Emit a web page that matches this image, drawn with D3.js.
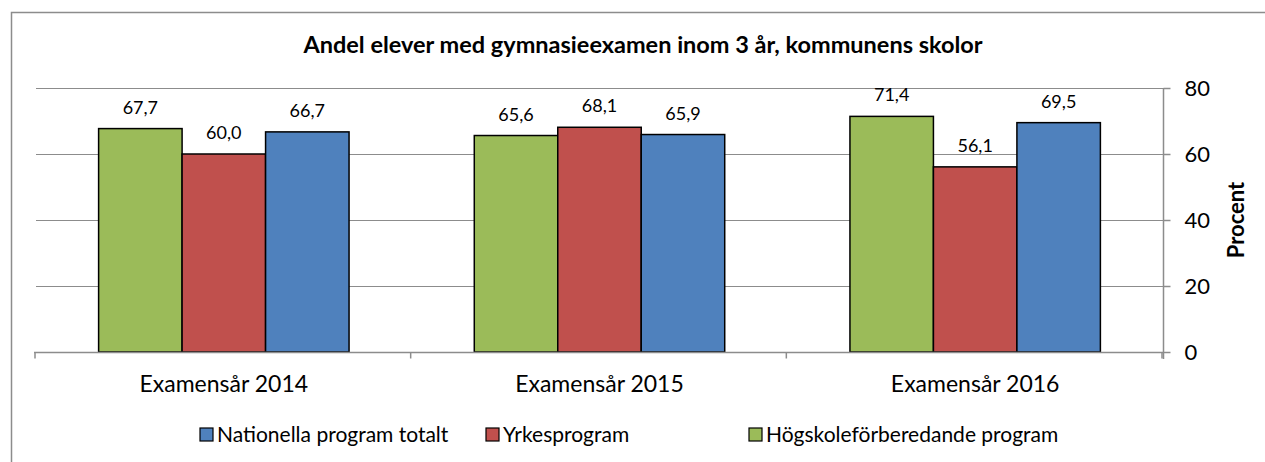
<!DOCTYPE html>
<html>
<head>
<meta charset="utf-8">
<script src="https://cdn.jsdelivr.net/npm/d3@7"></script>
<style>
body { margin: 0; background: #fff; }
svg text { font-family: Lato, "Open Sans", sans-serif; fill: #000; }
</style>
</head>
<body>
<div id="chart"></div>
<script>
var categories = ['Examensår 2014', 'Examensår 2015', 'Examensår 2016'];
var seriesNames = ['Högskoleförberedande program', 'Yrkesprogram', 'Nationella program totalt'];
var hogskole = [67.7, 65.6, 71.4];
var yrkes = [60.0, 68.1, 56.1];
var nationella = [66.7, 65.9, 69.5];
var yTicks = [0, 20, 40, 60, 80];
var legendOrder = ['Nationella program totalt', 'Yrkesprogram', 'Högskoleförberedande program'];

var colors = {
    'Högskoleförberedande program': '#9bbb59',
    'Yrkesprogram': '#c0504d',
    'Nationella program totalt': '#4f81bd'
};

var W = 1265, H = 462;
var pLeft = 36, pRight = 1163, pTop = 88, pBottom = 352;

var svg = d3.select('#chart').append('svg')
    .attr('width', W).attr('height', H);

// outer frame
svg.append('path')
    .attr('d', 'M11.5,' + (H + 2) + 'V12.5H' + (W + 2))
    .attr('fill', 'none')
    .attr('stroke', '#8c8c8c')
    .attr('stroke-width', 1.5);

svg.append('text')
    .attr('x', 643).attr('y', 53)
    .attr('text-anchor', 'middle')
    .style('font-weight', 'bold')
    .style('font-size', '23.5px')
    .text('Andel elever med gymnasieexamen inom 3 år, kommunens skolor');

var x0 = d3.scaleBand().domain(categories).range([pLeft, pRight]).paddingInner(0).paddingOuter(0);
var x1 = d3.scaleBand().domain(seriesNames).range([0, x0.bandwidth()]).paddingOuter(0.75).paddingInner(0);
var y = d3.scaleLinear().domain([0, 80]).range([pBottom, pTop]);

// gridlines
svg.append('g').selectAll('line').data(yTicks.filter(function(d) { return d > 0; }))
    .enter().append('line')
    .attr('x1', pLeft).attr('x2', pRight)
    .attr('y1', function(d) { return y(d) + 0.5; })
    .attr('y2', function(d) { return y(d) + 0.5; })
    .attr('stroke', '#8c8c8c').attr('stroke-width', 1.2);

var rows = [hogskole, yrkes, nationella];
var data = [];
categories.forEach(function(c, i) {
    seriesNames.forEach(function(s, j) {
        data.push({ cat: c, series: s, value: rows[j][i] });
    });
});

var fmt = function(v) { return d3.format('.1f')(v).replace('.', ','); };

svg.append('g').selectAll('rect').data(data).enter().append('rect')
    .attr('x', function(d) { return x0(d.cat) + x1(d.series); })
    .attr('y', function(d) { return y(d.value); })
    .attr('width', x1.bandwidth())
    .attr('height', function(d) { return y(0) - y(d.value); })
    .attr('fill', function(d) { return colors[d.series]; })
    .attr('stroke', '#000').attr('stroke-width', 1.5);

svg.append('g').selectAll('text').data(data).enter().append('text')
    .attr('x', function(d) { return x0(d.cat) + x1(d.series) + x1.bandwidth() / 2; })
    .attr('y', function(d) { return y(d.value) - 15; })
    .attr('text-anchor', 'middle')
    .style('font-size', '18px')
    .text(function(d) { return fmt(d.value); });

// x axis
var gx = svg.append('g').attr('transform', 'translate(0,' + (pBottom + 0.5) + ')');
gx.append('line').attr('x1', pLeft - 2).attr('x2', pRight).attr('stroke', '#8c8c8c').attr('stroke-width', 1.5);
gx.selectAll('line.tk').data(d3.range(categories.length + 1)).enter().append('line')
    .attr('class', 'tk')
    .attr('x1', function(i) { return pLeft - 1 + i * x0.bandwidth(); })
    .attr('x2', function(i) { return pLeft - 1 + i * x0.bandwidth(); })
    .attr('y1', 0).attr('y2', 6)
    .attr('stroke', '#8c8c8c').attr('stroke-width', 1.5);
gx.selectAll('text.cat').data(categories).enter().append('text')
    .attr('class', 'cat')
    .attr('x', function(d) { return x0(d) + x0.bandwidth() / 2; })
    .attr('y', 39)
    .attr('text-anchor', 'middle')
    .style('font-size', '23px')
    .text(function(d) { return d; });

// y axis on right
var yAxis = d3.axisRight(y).tickValues(yTicks).tickSize(7).tickPadding(14);
var gy = svg.append('g').attr('transform', 'translate(' + (pRight + 0.5) + ',0)').call(yAxis);
gy.select('.domain').attr('stroke', '#8c8c8c').attr('stroke-width', 1.5).attr('d', 'M0,' + pTop + 'V' + (pBottom + 7));
gy.selectAll('.tick line').attr('stroke', '#8c8c8c').attr('stroke-width', 1.5);
gy.selectAll('.tick text').style('font-size', '22px').style('font-family', 'Lato, sans-serif').attr('fill', '#000');

svg.append('text')
    .attr('transform', 'translate(1244,' + ((pTop + pBottom) / 2) + ') rotate(-90)')
    .attr('text-anchor', 'middle')
    .style('font-weight', 'bold')
    .style('font-size', '22px')
    .text('Procent');

// legend
var legendX = [200, 486, 749];
var lg = svg.append('g').selectAll('g').data(legendOrder).enter().append('g')
    .attr('transform', function(d, i) { return 'translate(' + legendX[i] + ',428)'; });
lg.append('rect').attr('width', 13).attr('height', 13)
    .attr('fill', function(d) { return colors[d]; })
    .attr('stroke', '#000').attr('stroke-width', 1.2);
lg.append('text').attr('x', 17).attr('y', 14)
    .style('font-size', '21px')
    .text(function(d) { return d; });
</script>
</body>
</html>
